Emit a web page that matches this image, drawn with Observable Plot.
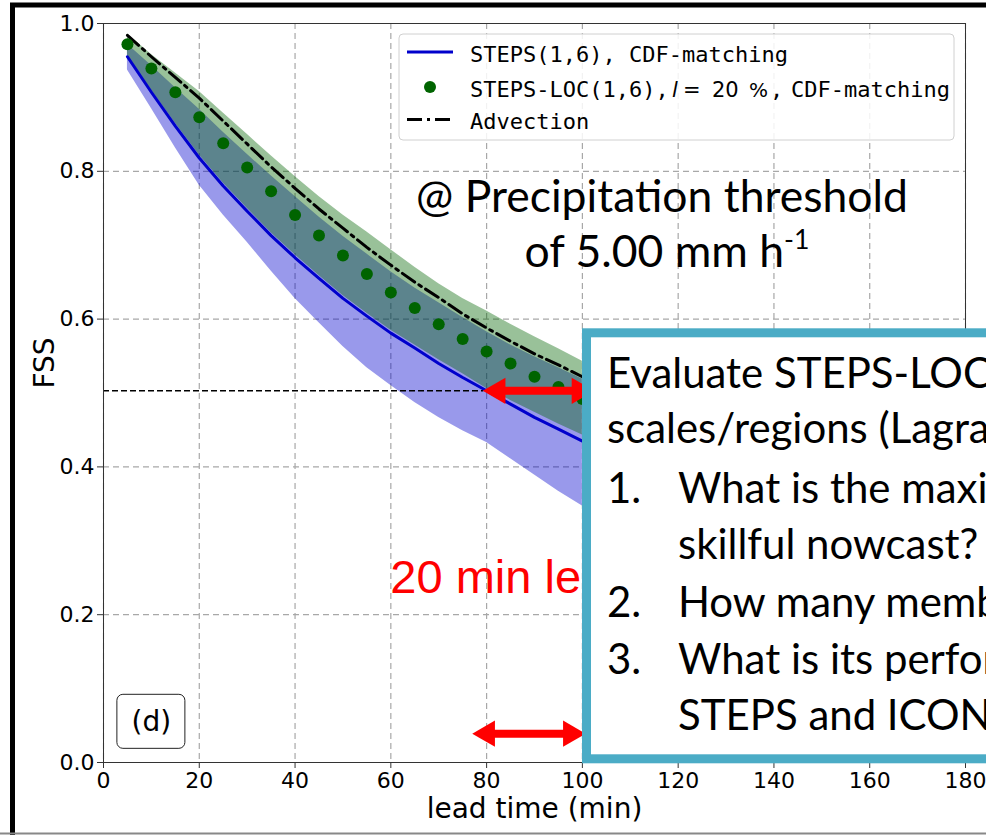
<!DOCTYPE html>
<html><head><meta charset="utf-8">
<script src="https://cdn.jsdelivr.net/npm/d3@7"></script>
<script src="https://cdn.jsdelivr.net/npm/@observablehq/plot@0.6"></script>
<style>
html,body{margin:0;padding:0;background:#fff;overflow:hidden;}
#chart{position:relative;width:986px;height:835px;overflow:hidden;}
</style></head><body><div id="chart"></div>
<script>
// ---- data ----
const leadTime   = [5,10,15,20,25,30,35,40,45,50,55,60,65,70,75,80,85,90,95,100];
const stepsMean  = [0.955,0.907,0.861,0.818,0.780,0.746,0.713,0.683,0.655,0.628,0.604,0.581,0.561,0.540,0.521,0.503,0.485,0.467,0.451,0.435];
const stepsLow   = [0.937,0.885,0.832,0.781,0.741,0.704,0.665,0.628,0.595,0.563,0.534,0.510,0.487,0.467,0.449,0.433,0.411,0.389,0.367,0.347];
const stepsHigh  = [0.972,0.943,0.913,0.884,0.853,0.823,0.794,0.766,0.738,0.712,0.688,0.664,0.642,0.622,0.602,0.583,0.565,0.549,0.534,0.519];
const locMean    = [0.972,0.939,0.907,0.873,0.838,0.805,0.773,0.741,0.713,0.686,0.661,0.636,0.615,0.593,0.573,0.556,0.540,0.522,0.508,0.492];
const locLow     = [0.957,0.910,0.865,0.822,0.784,0.750,0.717,0.687,0.659,0.632,0.608,0.585,0.565,0.545,0.526,0.506,0.490,0.474,0.458,0.443];
const locHigh    = [0.986,0.958,0.933,0.908,0.879,0.850,0.821,0.793,0.766,0.741,0.718,0.694,0.670,0.648,0.628,0.611,0.593,0.576,0.560,0.543];
const advection  = [0.984,0.955,0.927,0.899,0.868,0.837,0.806,0.777,0.749,0.723,0.697,0.673,0.650,0.629,0.607,0.588,0.570,0.553,0.538,0.522];
const xTicks = [0,20,40,60,80,100,120,140,160,180];
const yTicks = [0,0.2,0.4,0.6,0.8,1.0];
const skillLevel = 0.503;
const skillCrossing = 79.4;
const arrows = [{x1:79.2, x2:102.5, y:0.503}, {x1:77.0, x2:100.7, y:0.039}];
const legendLabels = ["STEPS(1,6), CDF-matching", "STEPS-LOC(1,6),", "Advection"];
const thresholdText = ["@ Precipitation threshold", "of 5.00 mm h", "-1"];
const gainText = "20 min le";
const panelLabel = "(d)";
const boxLines = [
  ["", "Evaluate STEPS-LOC"],
  ["", "scales/regions (Lagrangian"],
  ["1.", "What is the maximum"],
  ["",   "skillful nowcast?"],
  ["2.", "How many members"],
  ["3.", "What is its performance"],
  ["",   "STEPS and ICON"]
];

const rows = leadTime.map((t, i) => ({t, stepsMean: stepsMean[i], stepsLow: stepsLow[i], stepsHigh: stepsHigh[i],
  locMean: locMean[i], locLow: locLow[i], locHigh: locHigh[i], advection: advection[i]}));

const W = 986, H = 835, mL = 103, mR = 21, mT = 23, mB = 73;
const k = (W - mL - mR) / 180; // px per minute
const headR = 12.5, headS = headR * Math.sqrt(Math.PI) * 0.6824;
const shafts = arrows.map(a => ({y: a.y, x1: a.x1 + 1.2 * headS / k, x2: a.x2 - 1.2 * headS / k}));
const dbox = [{x1: 2.9, x2: 17.1, y1: 0.0185, y2: 0.0916}];

const plot = Plot.plot({
  width: W, height: H,
  marginLeft: mL, marginRight: mR, marginTop: mT, marginBottom: mB,
  style: {fontFamily: "DejaVu Sans", fontSize: "22px", background: "white", color: "#000"},
  x: {domain: [0, 180], label: null},
  y: {domain: [0, 1], label: null},
  marks: [
    Plot.gridX(xTicks, {stroke: "#a8a8a8", strokeOpacity: 1, strokeWidth: 1.2, strokeDasharray: "6,4"}),
    Plot.gridY(yTicks, {stroke: "#a8a8a8", strokeOpacity: 1, strokeWidth: 1.2, strokeDasharray: "6,4"}),
    Plot.areaY(rows, {x: "t", y1: "stepsLow", y2: "stepsHigh", fill: "#0000cd", fillOpacity: 0.4}),
    Plot.areaY(rows, {x: "t", y1: "locLow", y2: "locHigh", fill: "#006400", fillOpacity: 0.4}),
    Plot.ruleY([skillLevel], {x1: 0, x2: skillCrossing, stroke: "black", strokeWidth: 1.4, strokeDasharray: "6,3"}),
    Plot.lineY(rows, {x: "t", y: "stepsMean", stroke: "#0000cc", strokeWidth: 3}),
    Plot.lineY(rows, {x: "t", y: "advection", stroke: "black", strokeWidth: 3, strokeDasharray: "15,5,3,5"}),
    Plot.dot(rows, {x: "t", y: "locMean", r: 6, fill: "#006400", stroke: "none"}),
    Plot.frame({stroke: "#333", strokeWidth: 1}),
    Plot.axisX(xTicks, {tickSize: 6, tickPadding: 4, fontSize: 22, label: null, stroke: "#333", tickFormat: d => String(d)}),
    Plot.axisY(yTicks, {tickSize: 6, tickPadding: 3, fontSize: 22, label: null, stroke: "#333", tickFormat: d3.format(".1f")}),
    Plot.text(["lead time (min)"], {frameAnchor: "bottom", lineAnchor: "middle", textAnchor: "middle", dy: 47, fontSize: 28}),
    Plot.text(["FSS"], {frameAnchor: "left", textAnchor: "middle", lineAnchor: "middle", dx: -58, dy: -30, rotate: -90, fontSize: 28}),
    Plot.rect(dbox, {x1: "x1", x2: "x2", y1: "y1", y2: "y2", fill: "white", stroke: "#222", strokeWidth: 1, rx: 6}),
    Plot.text([panelLabel], {x: 10, y: 0.055, fontSize: 28}),
    Plot.text([gainText], {x: 59.9, y: 0.2296, textAnchor: "start", lineAnchor: "bottom", fill: "red", fontSize: 47, fontFamily: "Liberation Sans"}),
    Plot.link(shafts, {x1: "x1", x2: "x2", y1: "y", y2: "y", stroke: "red", strokeWidth: 8}),
    Plot.dot(arrows, {x: "x1", y: "y", symbol: "triangle2", rotate: -90, r: headR, fill: "red", stroke: "none", dx: headS}),
    Plot.dot(arrows, {x: "x2", y: "y", symbol: "triangle2", rotate: 90, r: headR, fill: "red", stroke: "none", dx: -headS})
  ]
});
document.getElementById("chart").appendChild(plot);

const svg = d3.select(plot);
function fitSize(text, family, target, base = 40) {
  const t = svg.append("text").attr("font-family", family).attr("font-size", base).text(text);
  const w = t.node().getComputedTextLength();
  t.remove();
  return base * target / w;
}

// threshold annotation
const fsT = fitSize(thresholdText[0], "Lato", 492);
const gT = svg.append("g").attr("font-family", "Lato").attr("font-size", fsT).attr("fill", "black").attr("text-anchor", "middle");
gT.append("text").attr("x", 662).attr("y", 212).text(thresholdText[0]);
const l2 = gT.append("text").attr("x", 667).attr("y", 267);
l2.append("tspan").text(thresholdText[1]);
l2.append("tspan").attr("font-size", fsT * 0.6).attr("dy", -fsT * 0.4).text(thresholdText[2]);

// legend
const lg = svg.append("g").attr("text-anchor", "start");
lg.append("rect").attr("x", 399).attr("y", 34).attr("width", 555).attr("height", 106).attr("rx", 4)
  .attr("fill", "white").attr("fill-opacity", 0.85).attr("stroke", "#d0d0d0");
lg.append("line").attr("x1", 407).attr("x2", 453).attr("y1", 52).attr("y2", 52).attr("stroke", "#0000cc").attr("stroke-width", 3);
lg.append("circle").attr("cx", 430).attr("cy", 87).attr("r", 6).attr("fill", "#006400");
lg.append("line").attr("x1", 407).attr("x2", 453).attr("y1", 119.5).attr("y2", 119.5).attr("stroke", "black").attr("stroke-width", 3).attr("stroke-dasharray", "15,5,3,5");
const mono = "DejaVu Sans Mono";
lg.append("text").attr("x", 470).attr("y", 61.5).attr("font-family", mono).attr("font-size", 22).text(legendLabels[0]);
const r2 = lg.append("text").attr("y", 96.5).attr("font-size", 22);
r2.append("tspan").attr("x", 470).attr("font-family", mono).text(legendLabels[1]);
r2.append("tspan").attr("x", 672).attr("font-family", "DejaVu Sans").attr("font-style", "italic").attr("font-size", 21).text("l");
r2.append("tspan").attr("x", 683).attr("font-family", "DejaVu Sans").attr("font-size", 21).text("=");
r2.append("tspan").attr("x", 712).attr("font-family", "DejaVu Sans").attr("font-size", 21).text("20");
r2.append("tspan").attr("x", 749).attr("font-family", "DejaVu Sans").attr("font-size", 20).text("%");
r2.append("tspan").attr("x", 770).attr("font-family", mono).text(",");
r2.append("tspan").attr("x", 791).attr("font-family", mono).text("CDF-matching");
lg.append("text").attr("x", 470).attr("y", 129).attr("font-family", mono).attr("font-size", 22).text(legendLabels[2]);

// slide overlay box
svg.append("rect").attr("x", 586.5).attr("y", 332.8).attr("width", 520).attr("height", 426)
  .attr("fill", "white").attr("stroke", "#4bacc6").attr("stroke-width", 9);
const fsB = fitSize("Evaluate STEPS-LO", "Lato", 356);
const baselines = [388, 443, 503, 559, 617, 674, 730];
const gB = svg.append("g").attr("font-family", "Lato").attr("font-size", fsB).attr("fill", "black").attr("text-anchor", "start");
boxLines.forEach(([num, txt], i) => {
  if (num) gB.append("text").attr("x", 607).attr("y", baselines[i]).text(num);
  gB.append("text").attr("x", (i < 2) ? 607 : 678).attr("y", baselines[i]).text(txt);
});

// slide frame
svg.append("path").attr("d", "M12.5,835V5H990").attr("fill", "none").attr("stroke", "black").attr("stroke-width", 5);
svg.append("line").attr("x1", 0).attr("x2", 986).attr("y1", 833.5).attr("y2", 833.5).attr("stroke", "#888").attr("stroke-width", 2);
</script>
</body></html>
